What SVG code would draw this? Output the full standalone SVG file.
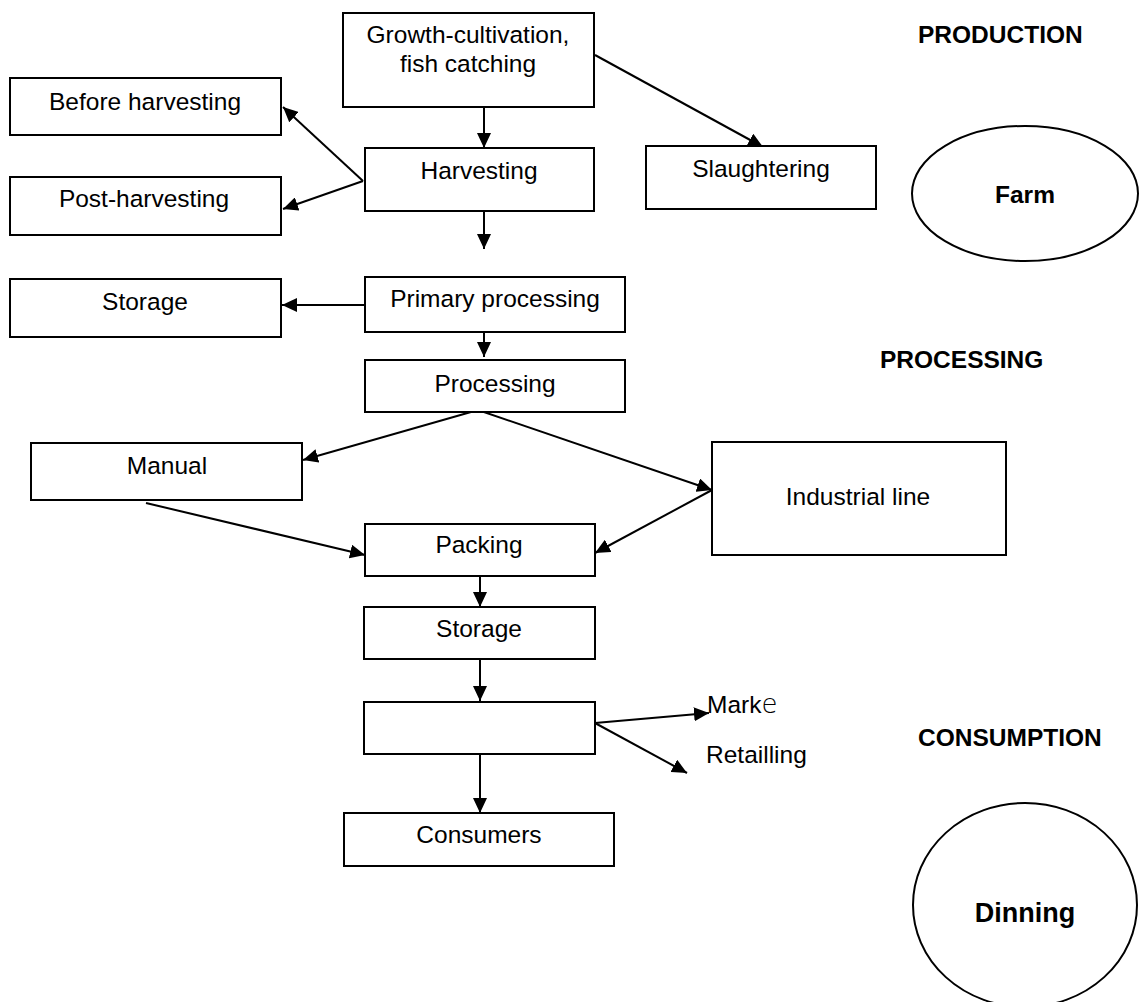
<svg xmlns="http://www.w3.org/2000/svg" width="1144" height="1002" viewBox="0 0 1144 1002">
<style>
.box{fill:#fff;stroke:#000;stroke-width:2}
.ell{fill:none;stroke:#000;stroke-width:2}
.t{font-family:"Liberation Sans",Arial,sans-serif;font-size:24.5px;fill:#000;text-anchor:middle}
.tl{font-family:"Liberation Sans",Arial,sans-serif;font-size:24.5px;fill:#000}
.b{font-family:"Liberation Sans",Arial,sans-serif;font-size:24.5px;font-weight:bold;fill:#000}
.c{stroke:#000;stroke-width:2;fill:none;marker-end:url(#ah)}
</style>
<defs>
<marker id="ah" markerUnits="userSpaceOnUse" markerWidth="16" markerHeight="14" refX="15" refY="7" orient="auto">
<path d="M0,0 L15,7 L0,14 z" fill="#000"/>
</marker>
</defs>
<g id="connectors">
<line class="c" x1="484" y1="103" x2="484" y2="148"/>
<line class="c" x1="595" y1="55" x2="763" y2="147"/>
<line class="c" x1="363" y1="181" x2="283" y2="107"/>
<line class="c" x1="363" y1="181" x2="283" y2="209"/>
<line class="c" x1="484" y1="203" x2="484" y2="249"/>
<line class="c" x1="365" y1="305" x2="282" y2="305"/>
<line class="c" x1="484" y1="332" x2="484" y2="357"/>
<line class="c" x1="478" y1="410" x2="303" y2="460"/>
<line class="c" x1="478" y1="410" x2="712" y2="490"/>
<line class="c" x1="146" y1="503" x2="365" y2="555"/>
<line class="c" x1="712" y1="490" x2="595" y2="553"/>
<line class="c" x1="480" y1="576" x2="480" y2="607"/>
<line class="c" x1="480" y1="659" x2="480" y2="701"/>
<line class="c" x1="595" y1="723" x2="709" y2="713"/>
<line class="c" x1="595" y1="723" x2="687" y2="773"/>
<line class="c" x1="480" y1="754" x2="480" y2="813"/>
</g>
<g id="growth"><rect class="box" x="343" y="13" width="251" height="94"/><text class="t" x="468" y="43">Growth-cultivation,</text><text class="t" x="468" y="72">fish catching</text></g>
<g id="before-harvesting"><rect class="box" x="10" y="78" width="271" height="57"/><text class="t" x="145" y="110">Before harvesting</text></g>
<g id="harvesting"><rect class="box" x="365" y="148" width="229" height="63"/><text class="t" x="479" y="179">Harvesting</text></g>
<g id="post-harvesting"><rect class="box" x="10" y="177" width="271" height="58"/><text class="t" x="144" y="207">Post-harvesting</text></g>
<g id="slaughtering"><rect class="box" x="646" y="146" width="230" height="63"/><text class="t" x="761" y="177">Slaughtering</text></g>
<g id="storage-1"><rect class="box" x="10" y="279" width="271" height="58"/><text class="t" x="145" y="310">Storage</text></g>
<g id="primary-processing"><rect class="box" x="365" y="277" width="260" height="55"/><text class="t" x="495" y="307">Primary processing</text></g>
<g id="processing"><rect class="box" x="365" y="360" width="260" height="52"/><text class="t" x="495" y="392">Processing</text></g>
<g id="manual"><rect class="box" x="31" y="443" width="271" height="57"/><text class="t" x="167" y="474">Manual</text></g>
<g id="industrial-line"><rect class="box" x="712" y="442" width="294" height="113"/><text class="t" x="858" y="505">Industrial line</text></g>
<g id="packing"><rect class="box" x="365" y="524" width="230" height="52"/><text class="t" x="479" y="553">Packing</text></g>
<g id="storage-2"><rect class="box" x="364" y="607" width="231" height="52"/><text class="t" x="479" y="637">Storage</text></g>
<g id="blank"><rect class="box" x="364" y="702" width="231" height="52"/></g>
<g id="market"><text class="tl" x="707" y="713" font-size="22">Mark<tspan font-family="DejaVu Sans" font-weight="200" font-size="26">e</tspan></text></g>
<g id="retailling"><text class="tl" x="706" y="763">Retailling</text></g>
<g id="consumers"><rect class="box" x="344" y="813" width="270" height="53"/><text class="t" x="479" y="843">Consumers</text></g>
<g id="production"><text class="b" x="918" y="43">PRODUCTION</text></g>
<g id="farm"><ellipse class="ell" cx="1025" cy="193.5" rx="113" ry="67.5"/><text class="b" x="1025" y="203" text-anchor="middle">Farm</text></g>
<g id="processing-label"><text class="b" x="880" y="368">PROCESSING</text></g>
<g id="consumption"><text class="b" x="918" y="746">CONSUMPTION</text></g>
<g id="dinning"><ellipse class="ell" cx="1025" cy="905" rx="112" ry="102"/><text class="b" x="1025" y="922" text-anchor="middle" style="font-size:27px">Dinning</text></g>
</svg>
